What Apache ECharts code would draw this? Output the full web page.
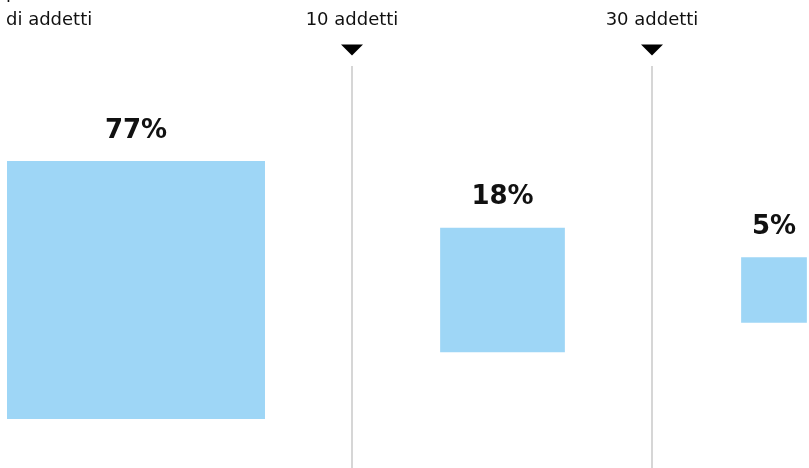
<!DOCTYPE html>
<html>
<head>
<meta charset="utf-8">
<script src="https://cdn.jsdelivr.net/npm/echarts@6/dist/echarts.min.js"></script>
<style>
  html, body { margin: 0; padding: 0; background: #fff; }
  #chart { width: 809px; height: 468px; }
</style>
</head>
<body>
<div id="chart"></div>
<script>
// quota di imprese per classe di addetti
const classes = ['fino a 10', '10-30', 'oltre 30'];
const shares = [77, 18, 5];
const thresholds = ['10 addetti', '30 addetti'];

// posizioni sul piano (px)
const squareX = [136, 502.5, 774];
const squareY = 290;
const thresholdX = [352, 652];

const chart = echarts.init(document.getElementById('chart'));
const fontFamily = '"DejaVu Sans", sans-serif';

const option = {
  animation: false,
  grid: { left: 0, right: 0, top: 0, bottom: 0 },
  xAxis: { type: 'value', min: 0, max: 809, show: false },
  yAxis: { type: 'value', min: 0, max: 468, inverse: true, show: false },
  graphic: [
    {
      type: 'text',
      left: 6,
      top: -20,
      style: {
        text: 'per numero\ndi addetti',
        font: '18px ' + fontFamily,
        lineHeight: 27,
        fill: '#111'
      }
    }
  ],
  series: [
    {
      type: 'scatter',
      symbol: 'rect',
      symbolSize: (val) => Math.sqrt(val[2]) * 29.4,
      itemStyle: { color: '#9ed6f6', opacity: 1 },
      label: {
        show: true,
        position: 'top',
        distance: 17,
        formatter: (p) => p.value[2] + '%',
        fontFamily,
        fontSize: 26,
        fontWeight: 'bold',
        color: '#111'
      },
      data: shares.map((v, i) => ({ name: classes[i], value: [squareX[i], squareY, v] })),
      markLine: {
        silent: true,
        symbol: ['none', 'none'],
        label: { show: false },
        lineStyle: { color: '#c8c8c8', width: 1.5, type: 'solid' },
        data: thresholdX.map((x) => [{ coord: [x, 66] }, { coord: [x, 468] }])
      },
      markPoint: {
        silent: true,
        symbol: 'triangle',
        symbolRotate: 180,
        symbolSize: [22, 11],
        itemStyle: { color: '#000' },
        label: {
          show: true,
          position: 'top',
          distance: 15,
          formatter: (p) => p.name,
          fontFamily,
          fontSize: 18,
          color: '#111'
        },
        data: thresholdX.map((x, i) => ({ name: thresholds[i], coord: [x, 50] }))
      }
    }
  ]
};

chart.setOption(option);
</script>
</body>
</html>
